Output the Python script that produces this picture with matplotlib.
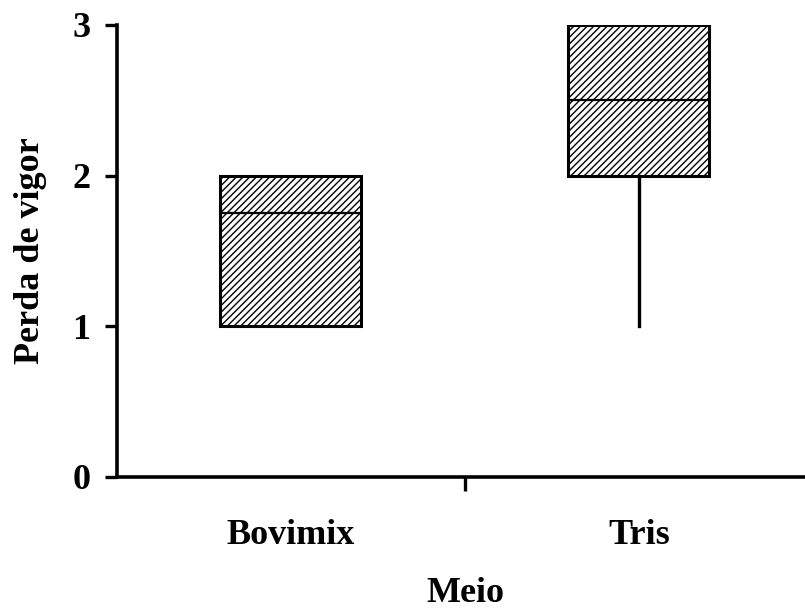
import matplotlib.pyplot as plt

plt.rcParams['font.family'] = ['Liberation Serif', 'DejaVu Serif']
plt.rcParams['font.weight'] = 'bold'
plt.rcParams['hatch.color'] = '#3a3a3a'
plt.rcParams['hatch.linewidth'] = 1.0

grupos = ['Bovimix', 'Tris']
minimo = [1, 1]
q1 = [1, 2]
mediana = [1.75, 2.5]
q3 = [2, 3]
maximo = [2, 3]

stats = []
for i in range(len(grupos)):
    stats.append({'label': grupos[i], 'whislo': minimo[i], 'q1': q1[i], 'med': mediana[i],
                  'q3': q3[i], 'whishi': maximo[i], 'fliers': []})

fig = plt.figure(figsize=(8.05, 6.08), dpi=100)
ax = fig.add_axes([0.1453, 0.2155, 0.8646, 0.7434])

bp = ax.bxp(stats, positions=[0.5, 1.5], widths=0.405, patch_artist=True, showcaps=False,
            boxprops=dict(facecolor='white', edgecolor='black', linewidth=2.2, hatch='/////'),
            medianprops=dict(color='black', linewidth=1.6),
            whiskerprops=dict(color='black', linewidth=2.4))

ax.set_xlim(0, 2)
ax.set_ylim(0, 3)
ax.set_yticks([0, 1, 2, 3])
ax.set_xticks([0.5, 1.5])
ax.set_xticklabels(grupos)
ax.set_xticks([1.0], minor=True)
ax.tick_params(axis='x', which='major', length=0, pad=30, labelsize=26)
ax.tick_params(axis='x', which='minor', length=10, width=2.4, direction='out')
ax.tick_params(axis='y', length=9, width=2.4, direction='out', pad=10, labelsize=26)

for s in ['top', 'right']:
    ax.spines[s].set_visible(False)
for s in ['left', 'bottom']:
    ax.spines[s].set_linewidth(2.6)
ax.spines['left'].set_bounds(0, 3)

ax.set_xlabel('Meio', fontsize=26, fontweight='bold', labelpad=18)
ax.set_ylabel('Perda de vigor', fontsize=26, fontweight='bold', labelpad=18)

fig.savefig('out.png', dpi=100)
